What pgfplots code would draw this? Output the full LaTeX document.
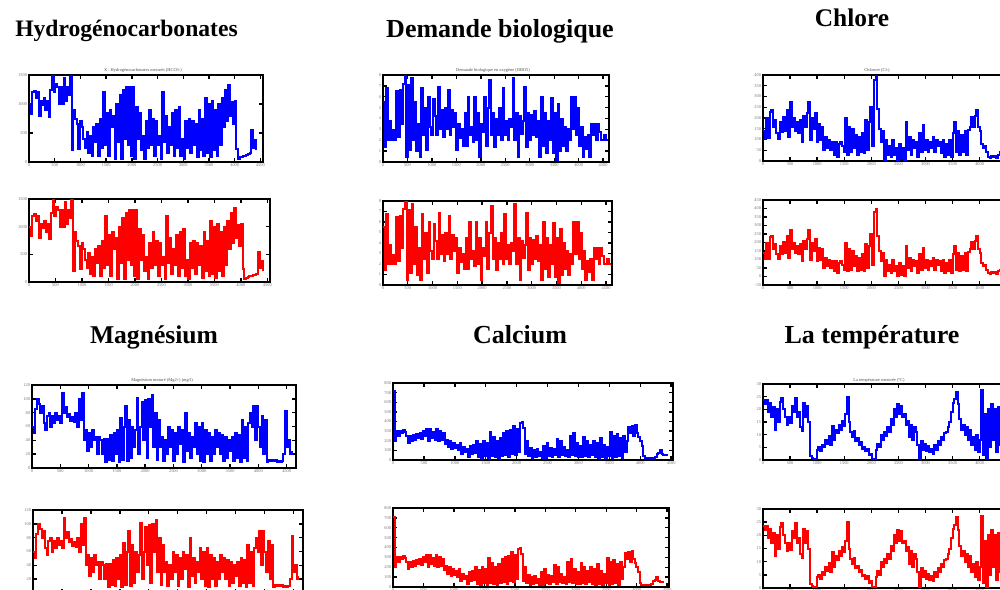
\documentclass[border=0pt]{standalone}
\usepackage{fontspec}
\setmainfont{Liberation Serif}
\usepackage{pgfplots}
\usepackage{pgfplotstable}
\pgfplotsset{compat=1.18}

\pgfplotstableread[row sep=\\]{y\\1000\\830\\1200\\1230\\1100\\1200\\800\\1050\\980\\1100\\900\\1050\\780\\1250\\1500\\1200\\1350\\1300\\1000\\1300\\1000\\1450\\1050\\1300\\1150\\1500\\200\\900\\750\\650\\230\\700\\600\\400\\250\\520\\150\\450\\100\\600\\350\\650\\100\\750\\250\\1200\\300\\850\\100\\900\\600\\800\\60\\1000\\350\\1150\\50\\1250\\400\\1300\\300\\1300\\100\\1300\\50\\950\\400\\850\\200\\450\\50\\700\\250\\900\\300\\750\\100\\700\\300\\450\\50\\1200\\350\\800\\150\\600\\300\\850\\100\\900\\250\\950\\100\\400\\50\\700\\250\\750\\150\\700\\300\\650\\80\\900\\200\\750\\100\\1100\\150\\1000\\80\\1050\\200\\900\\100\\1000\\300\\1100\\600\\1250\\700\\1330\\800\\1030\\650\\1050\\230\\60\\80\\90\\100\\100\\120\\130\\150\\550\\250\\380\\200\\}\hydro

\pgfplotstableread[row sep=\\]{y\\5.5\\1.4\\6.8\\2.0\\3.8\\2.0\\2.9\\2.0\\6.5\\2.3\\6.6\\3.5\\7.2\\8.0\\0.5\\7.1\\1.1\\7.7\\2.0\\5.5\\1.0\\3.5\\0.5\\6.8\\2.5\\5.0\\1.1\\6.0\\3.2\\2.5\\5.8\\4.2\\2.5\\6.9\\3.0\\4.8\\2.3\\5.0\\3.0\\6.6\\2.5\\4.8\\3.2\\4.5\\1.1\\3.5\\2.2\\3.0\\1.5\\4.5\\1.5\\6.0\\2.5\\3.2\\1.8\\6.0\\2.0\\4.5\\0.5\\3.5\\2.8\\6.0\\1.5\\5.0\\7.5\\2.5\\4.5\\1.4\\4.0\\2.5\\5.0\\2.0\\6.8\\2.5\\3.8\\2.0\\4.0\\3.2\\7.7\\2.0\\4.5\\0.5\\4.2\\2.6\\3.8\\6.9\\1.4\\4.5\\2.0\\4.3\\2.5\\4.7\\2.3\\3.8\\0.5\\6.0\\1.5\\4.5\\0.8\\3.8\\2.0\\5.9\\0.8\\4.5\\0.2\\5.3\\1.0\\4.0\\1.5\\3.2\\1.0\\3.0\\2.0\\6.0\\3.0\\6.0\\2.5\\5.0\\1.5\\3.2\\0.5\\2.3\\1.2\\2.5\\0.5\\3.5\\2.5\\3.5\\2.0\\3.5\\2.8\\2.0\\2.0\\2.5\\2.0\\2.0\\}\dbo

\pgfplotstableread[row sep=\\]{y\\140\\105\\200\\105\\230\\237\\160\\190\\130\\104\\180\\135\\205\\140\\237\\110\\275\\160\\200\\140\\180\\130\\190\\90\\210\\160\\221\\275\\100\\200\\150\\221\\90\\170\\100\\160\\50\\110\\60\\100\\50\\90\\30\\90\\20\\80\\90\\70\\40\\198\\30\\160\\40\\150\\60\\120\\30\\110\\40\\130\\35\\190\\50\\180\\252\\70\\377\\400\\240\\150\\90\\140\\5\\100\\30\\70\\20\\100\\30\\60\\5\\80\\10\\60\\5\\182\\50\\110\\30\\100\\60\\90\\20\\130\\40\\166\\50\\100\\40\\90\\60\\110\\40\\100\\70\\90\\35\\100\\20\\80\\30\\100\\20\\130\\182\\40\\140\\30\\120\\40\\140\\30\\143\\160\\205\\160\\210\\237\\160\\140\\80\\60\\70\\40\\20\\15\\25\\18\\25\\15\\30\\40\\55\\50\\70\\60\\80\\70\\}\chlore

\pgfplotstableread[row sep=\\]{y\\60\\50\\85\\100\\92\\80\\90\\65\\55\\75\\80\\60\\75\\65\\80\\70\\75\\65\\108\\80\\88\\74\\78\\68\\74\\66\\80\\60\\100\\70\\108\\40\\55\\25\\50\\30\\55\\40\\45\\20\\45\\40\\20\\42\\8\\42\\12\\48\\10\\50\\20\\55\\8\\72\\12\\60\\89\\10\\70\\15\\60\\30\\55\\101\\20\\60\\95\\40\\98\\15\\100\\60\\106\\30\\80\\12\\70\\30\\45\\10\\40\\20\\60\\30\\55\\10\\50\\20\\60\\35\\55\\8\\79\\25\\50\\15\\45\\30\\65\\20\\60\\10\\65\\8\\55\\20\\50\\10\\45\\20\\55\\30\\50\\20\\48\\10\\45\\15\\40\\25\\45\\10\\50\\15\\48\\8\\70\\15\\60\\10\\65\\79\\60\\89\\40\\90\\60\\30\\75\\20\\70\\8\\12\\10\\12\\10\\11\\8\\10\\9\\10\\20\\82\\30\\40\\20\\25\\}\magn

\pgfplotstableread[row sep=\\]{y\\713\\200\\300\\250\\300\\280\\310\\290\\250\\180\\250\\200\\260\\210\\270\\230\\280\\220\\300\\250\\320\\200\\320\\230\\290\\210\\320\\200\\300\\210\\280\\170\\210\\130\\200\\110\\180\\120\\160\\100\\180\\60\\130\\80\\110\\30\\150\\60\\160\\70\\200\\30\\170\\20\\200\\40\\180\\20\\290\\40\\240\\30\\200\\20\\230\\40\\280\\50\\300\\30\\310\\60\\350\\50\\320\\80\\380\\400\\330\\60\\200\\40\\120\\20\\100\\30\\110\\40\\80\\20\\150\\20\\180\\40\\120\\30\\110\\50\\220\\30\\200\\50\\130\\40\\100\\30\\250\\50\\280\\40\\180\\30\\150\\30\\240\\40\\200\\30\\160\\50\\200\\30\\180\\20\\230\\30\\160\\20\\130\\40\\290\\20\\250\\30\\270\\40\\230\\20\\250\\80\\200\\340\\280\\350\\250\\360\\280\\240\\200\\150\\40\\25\\20\\20\\18\\20\\25\\30\\60\\70\\100\\60\\50\\50\\50\\50\\}\calc

\pgfplotstableread[row sep=\\]{y\\23.5\\22\\23.5\\19\\22.5\\17\\21\\12\\20\\15\\23\\24.5\\20\\17\\14\\17\\14.5\\21.5\\19\\24.5\\17\\19\\13\\11.5\\22.5\\17\\21.5\\15\\1.5\\0.6\\0.3\\0.5\\4\\5\\3.5\\6\\5\\8\\6.5\\9.5\\6\\13.5\\8\\12\\10.5\\14\\12\\15.5\\13.5\\18\\25\\15\\11\\9\\11.5\\7.5\\8.5\\6\\7\\4.5\\5\\3.5\\4.5\\2\\2.5\\0.5\\0.3\\4\\6.5\\5\\10\\8\\11\\9.5\\13\\11\\16\\14\\20\\17\\22\\18\\21.5\\17\\18\\14\\15.5\\9\\14\\8\\13\\11\\6\\0.3\\7.5\\4\\6.5\\3.5\\5.5\\3\\4.5\\2.5\\6\\4\\7.5\\6\\9\\8\\10.5\\11\\13\\15\\19\\22.5\\24\\27\\22\\16\\12\\14\\10\\13\\8\\12\\6\\9\\4\\10\\3\\8\\27.5\\2\\18\\0.5\\20\\5\\22\\8\\20\\3\\21\\6\\18\\9\\20\\5\\17\\10\\}\temp

\pgfplotsset{
  panel/.style={
    scale only axis, anchor=north west,
    axis line style={line width=1pt, black},
    every tick/.style={black, line width=0.7pt},
    major tick length=2pt,
    tick align=inside,
    xtick pos=both, ytick pos=both,
    xticklabel pos=left, yticklabel pos=left,
    /pgf/number format/assume math mode=true,
    tick label style={font=\fontsize{2.2}{2.4}\selectfont, text=black!55},
    xticklabel style={inner sep=0.8pt},
    yticklabel style={inner sep=0.8pt},
    /pgf/number format/1000 sep={},
    scaled ticks=false,
    xmin=0, xtick={0,500,...,4500},
  },
  sig/.style={const plot, no markers, line width=1pt},
}

\begin{document}
\begin{tikzpicture}
\useasboundingbox (0,0) rectangle (500pt,-294.5pt);
\clip (0,0) rectangle (500pt,-294.5pt);

% Titles
\node[anchor=base, font=\bfseries\fontsize{11.8}{12}\selectfont] at (63.25pt,-18pt) {Hydrogénocarbonates};
\node[anchor=base, font=\bfseries\fontsize{13}{13}\selectfont] at (250pt,-18.5pt) {Demande biologique};
\node[anchor=base, font=\bfseries\fontsize{12.7}{13}\selectfont] at (426pt,-13pt) {Chlore};
\node[anchor=base, font=\bfseries\fontsize{12.8}{13}\selectfont] at (77pt,-171.5pt) {Magnésium};
\node[anchor=base, font=\bfseries\fontsize{13}{13}\selectfont] at (260pt,-171.5pt) {Calcium};
\node[anchor=base, font=\bfseries\fontsize{13}{13}\selectfont] at (436pt,-171.5pt) {La température};

% tiny titles
\node[font=\fontsize{2.2}{2.4}\selectfont, text=black!70] at (71.5pt,-35pt) {X : Hydrogénocarbonates mesurés (HCO3-)};
\node[font=\fontsize{2.2}{2.4}\selectfont, text=black!70] at (246.5pt,-35pt) {Demande biologique en oxygène (DBO5)};
\node[font=\fontsize{2.2}{2.4}\selectfont, text=black!70] at (438.5pt,-35pt) {Chlorure (Cl-)};
\node[font=\fontsize{2.2}{2.4}\selectfont, text=black!70] at (81pt,-190pt) {Magnésium mesuré (Mg2+) (mg/l)};
\node[font=\fontsize{2.2}{2.4}\selectfont, text=black!70] at (439.5pt,-190pt) {La température mesurée (°C)};

% Hydrogenocarbonates
\begin{axis}[panel, at={(14.5pt,-37.5pt)}, width=117pt, height=43.5pt,
  xmax=4550, ymin=0, ymax=1500, ytick={0,500,1000,1500}]
\addplot[sig, blue] table[x expr=\coordindex*32, y=y] {\hydro};
\end{axis}
\begin{axis}[panel, at={(14.5pt,-99.5pt)}, width=120.5pt, height=41.5pt,
  xmax=4550, ymin=0, ymax=1500, ytick={0,500,1000,1500}]
\addplot[sig, red] table[x expr=\coordindex*32, y=y] {\hydro};
\end{axis}

% Demande biologique
\begin{axis}[panel, at={(191.5pt,-37.5pt)}, width=113pt, height=43.5pt,
  xmax=4620, ymin=0, ymax=8, ytick={0,1,...,8}]
\addplot[sig, blue] table[x expr=\coordindex*34, y=y] {\dbo};
\end{axis}
\begin{axis}[panel, at={(191.5pt,-100.5pt)}, width=114.5pt, height=42pt,
  xmax=4620, ymin=0, ymax=8, ytick={0,1,...,8}]
\addplot[sig, red] table[x expr=\coordindex*34, y=y] {\dbo};
\end{axis}

% Chlore
\begin{axis}[panel, at={(381.5pt,-37.5pt)}, width=123.5pt, height=43pt,
  xmax=4560, ymin=0, ymax=400, ytick={0,50,...,400}]
\addplot[sig, blue] table[x expr=\coordindex*31, y=y] {\chlore};
\end{axis}
\begin{axis}[panel, at={(381.5pt,-100pt)}, width=123.5pt, height=42.5pt,
  xmax=4560, ymin=-50, ymax=450, ytick={-50,0,...,450}]
\addplot[sig, red] table[x expr=\coordindex*31, y=y] {\chlore};
\end{axis}

% Magnesium
\begin{axis}[panel, at={(16pt,-192.5pt)}, width=132pt, height=41.5pt,
  xmax=4665, ymin=0, ymax=120, ytick={0,20,...,120}]
\addplot[sig, blue] table[x expr=\coordindex*29.4, y=y] {\magn};
\end{axis}
\begin{axis}[panel, at={(16.5pt,-255pt)}, width=135pt, height=41.5pt,
  xmax=4665, ymin=0, ymax=120, ytick={0,20,...,120}]
\addplot[sig, red] table[x expr=\coordindex*29.4, y=y] {\magn};
\end{axis}

% Calcium
\begin{axis}[panel, at={(196.5pt,-191.5pt)}, width=140pt, height=38.5pt,
  xmax=4530, ymin=0, ymax=800, ytick={0,100,...,800}]
\addplot[sig, blue] table[x expr=\coordindex*27, y=y] {\calc};
\end{axis}
\begin{axis}[panel, at={(196.5pt,-254pt)}, width=138pt, height=39.5pt,
  xmax=4530, ymin=0, ymax=800, ytick={0,100,...,800}]
\addplot[sig, red] table[x expr=\coordindex*27, y=y] {\calc};
\end{axis}

% Temperature
\begin{axis}[panel, at={(381.5pt,-192pt)}, width=123.5pt, height=38pt,
  xmax=4560, ymin=0, ymax=30, ytick={0,5,...,30}]
\addplot[sig, blue] table[x expr=\coordindex*31, y=y] {\temp};
\end{axis}
\begin{axis}[panel, at={(381.5pt,-254.5pt)}, width=123.5pt, height=39.5pt,
  xmax=4560, ymin=0, ymax=30, ytick={0,5,...,30}]
\addplot[sig, red] table[x expr=\coordindex*31, y=y] {\temp};
\end{axis}
\end{tikzpicture}
\end{document}
